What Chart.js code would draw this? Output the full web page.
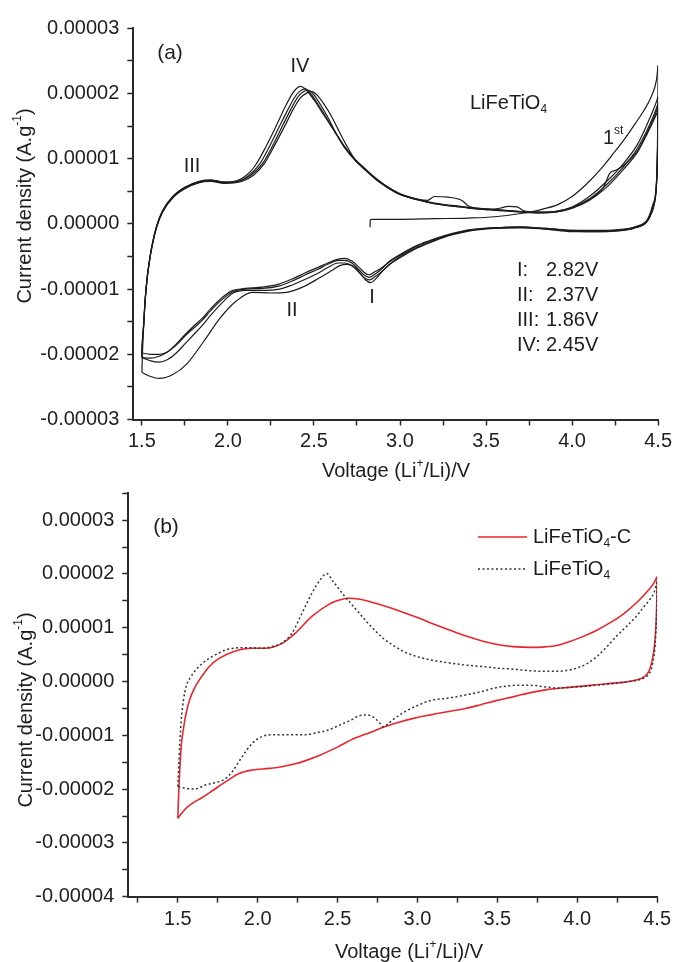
<!DOCTYPE html>
<html><head><meta charset="utf-8">
<script src="https://cdn.jsdelivr.net/npm/chart.js@4/dist/chart.umd.min.js"></script>
<style>
html,body{margin:0;padding:0;background:#fff;width:676px;height:962px;overflow:hidden;position:relative}
canvas{position:absolute;left:0}
</style></head><body>
<canvas id="ca" width="676" height="490" style="top:0"></canvas>
<canvas id="cb" width="676" height="492" style="top:470px"></canvas>
<script>
// ---------- Tick labels ----------
const xTickLabels = ['1.5','2.0','2.5','3.0','3.5','4.0','4.5'];
const yTickLabelsA = ['-0.00003','-0.00002','-0.00001','0.00000','0.00001','0.00002','0.00003'];
const yTickLabelsB = ['-0.00004','-0.00003','-0.00002','-0.00001','0.00000','0.00001','0.00002','0.00003'];
// current density values below are in units of 1e-5 A.g-1 (axis labelled accordingly)

// ---------- Panel (a): LiFeTiO4, cycles ----------
// cycle 1: first anodic scan from OCV
const a_c1_ocv_V = [2.826,2.827,2.84,3.0,3.2,3.4,3.55,3.7,3.82,3.92,4.0,4.08,4.16,4.24,4.31,4.37,4.42,4.46,4.49,4.5];
const a_c1_ocv_I = [-0.05,0.06,0.07,0.07,0.08,0.09,0.11,0.16,0.22,0.30,0.42,0.60,0.82,1.08,1.32,1.55,1.75,1.95,2.2,2.43];
// cycle 1 cathodic
const a_c1_red_V = [4.5,4.498,4.494,4.485,4.46,4.42,4.36,4.28,4.15,4.0,3.85,3.7,3.55,3.4,3.3,3.2,3.1,3.0,2.95,2.9,2.86,2.83,2.80,2.77,2.73,2.69,2.65,2.6,2.53,2.45,2.34,2.25,2.14,2.05,1.95,1.86,1.76,1.68,1.6,1.55,1.5];
const a_c1_red_I = [2.43,1.6,0.9,0.45,0.15,0.0,-0.06,-0.10,-0.12,-0.12,-0.08,-0.05,-0.06,-0.10,-0.16,-0.25,-0.36,-0.50,-0.60,-0.72,-0.84,-0.90,-0.86,-0.76,-0.65,-0.62,-0.64,-0.72,-0.83,-0.95,-1.05,-1.06,-1.05,-1.18,-1.46,-1.80,-2.15,-2.31,-2.37,-2.34,-2.28];
// cycle 2
const a_c2_ox_V = [1.5,1.503,1.509,1.519,1.53,1.542,1.558,1.585,1.62,1.68,1.75,1.83,1.9,1.98,2.05,2.11,2.16,2.22,2.28,2.33,2.37,2.40,2.42,2.45,2.5,2.56,2.62,2.68,2.74,2.8,2.86,2.92,3.0,3.1,3.2,3.35,3.5,3.65,3.8,3.9,4.0,4.1,4.2,4.3,4.38,4.44,4.48,4.5];
const a_c2_ox_I = [-2.28,-2.0,-1.64,-1.18,-0.85,-0.6,-0.34,-0.04,0.2,0.42,0.56,0.65,0.67,0.64,0.66,0.75,0.9,1.18,1.5,1.78,1.98,2.08,2.11,2.07,1.9,1.66,1.42,1.18,0.99,0.84,0.70,0.58,0.46,0.38,0.32,0.27,0.23,0.20,0.18,0.19,0.26,0.42,0.65,0.93,1.22,1.55,1.80,1.95];
const a_red_V = [4.5,4.497,4.49,4.47,4.44,4.37,4.3,4.15,4.0,3.85,3.7,3.55,3.4,3.3,3.2,3.1,3.0,2.94,2.89,2.85,2.82,2.79,2.76,2.72,2.68,2.64,2.58,2.52,2.45,2.37,2.3,2.2,2.1,2.03,1.97,1.9,1.85,1.8,1.75,1.7,1.65,1.6,1.55,1.5];
const a_c2_red_I = [1.95,1.2,0.6,0.3,0.08,-0.04,-0.08,-0.10,-0.10,-0.07,-0.05,-0.06,-0.09,-0.15,-0.23,-0.33,-0.47,-0.57,-0.70,-0.78,-0.82,-0.78,-0.70,-0.60,-0.56,-0.56,-0.62,-0.70,-0.78,-0.88,-0.95,-0.99,-1.00,-1.04,-1.15,-1.33,-1.48,-1.60,-1.72,-1.86,-1.96,-2.0,-2.0,-1.98];
// cycle 3
const a_c3_ox_V = [1.5,1.503,1.509,1.519,1.53,1.542,1.558,1.585,1.62,1.68,1.75,1.83,1.9,1.98,2.06,2.12,2.18,2.24,2.3,2.35,2.39,2.42,2.45,2.48,2.52,2.57,2.62,2.68,2.74,2.8,2.86,2.92,3.0,3.1,3.2,3.35,3.5,3.65,3.8,3.9,4.0,4.1,4.2,4.3,4.38,4.44,4.48,4.5];
const a_c3_ox_I = [-1.98,-1.8,-1.6,-1.16,-0.84,-0.6,-0.35,-0.05,0.19,0.41,0.55,0.64,0.66,0.63,0.65,0.74,0.9,1.18,1.5,1.76,1.95,2.04,2.07,2.0,1.85,1.64,1.42,1.17,0.98,0.83,0.69,0.57,0.45,0.37,0.31,0.26,0.22,0.19,0.17,0.18,0.24,0.38,0.60,0.88,1.16,1.46,1.70,1.85];
const a_c3_red_I = [1.85,1.15,0.58,0.28,0.06,-0.06,-0.10,-0.12,-0.11,-0.08,-0.06,-0.07,-0.11,-0.17,-0.26,-0.37,-0.52,-0.62,-0.74,-0.82,-0.86,-0.82,-0.74,-0.64,-0.60,-0.60,-0.67,-0.76,-0.85,-0.94,-1.0,-1.02,-1.02,-1.06,-1.2,-1.4,-1.56,-1.7,-1.84,-1.98,-2.08,-2.12,-2.1,-2.05];
// cycle 4
const a_c4_ox_V = [1.5,1.503,1.509,1.519,1.53,1.542,1.558,1.585,1.62,1.68,1.75,1.83,1.9,1.98,2.07,2.14,2.2,2.26,2.32,2.37,2.41,2.44,2.47,2.5,2.54,2.58,2.63,2.68,2.74,2.8,2.86,2.92,3.0,3.1,3.16,3.2,3.28,3.36,3.4,3.5,3.65,3.8,3.9,4.0,4.1,4.18,4.22,4.26,4.3,4.38,4.44,4.48,4.5];
const a_c4_ox_I = [-2.05,-1.8,-1.58,-1.15,-0.83,-0.59,-0.34,-0.04,0.2,0.42,0.56,0.65,0.67,0.64,0.66,0.76,0.92,1.2,1.52,1.78,1.96,2.03,2.05,1.98,1.82,1.64,1.38,1.16,0.97,0.83,0.69,0.58,0.46,0.38,0.36,0.42,0.41,0.36,0.27,0.23,0.20,0.18,0.19,0.25,0.38,0.55,0.78,0.83,0.90,1.12,1.42,1.66,1.80];
const a_c4_red_I = [1.80,1.1,0.55,0.26,0.05,-0.05,-0.09,-0.11,-0.10,-0.07,-0.05,-0.06,-0.10,-0.16,-0.24,-0.34,-0.48,-0.58,-0.68,-0.74,-0.78,-0.74,-0.66,-0.57,-0.53,-0.54,-0.60,-0.67,-0.75,-0.85,-0.92,-0.97,-0.99,-1.02,-1.12,-1.3,-1.45,-1.57,-1.70,-1.84,-1.96,-2.03,-2.06,-2.05];
// cycle 5 (anodic)
const a_c5_ox_V = [1.5,1.503,1.509,1.519,1.53,1.542,1.558,1.585,1.62,1.68,1.75,1.83,1.9,1.98,2.08,2.15,2.21,2.27,2.33,2.38,2.42,2.46,2.49,2.52,2.56,2.6,2.64,2.69,2.74,2.8,2.86,2.92,3.0,3.1,3.2,3.35,3.5,3.58,3.63,3.68,3.72,3.8,3.9,4.0,4.1,4.2,4.3,4.38,4.44,4.48,4.5];
const a_c5_ox_I = [-2.05,-1.8,-1.6,-1.17,-0.85,-0.61,-0.36,-0.06,0.18,0.40,0.54,0.63,0.65,0.62,0.65,0.75,0.92,1.2,1.5,1.76,1.93,2.01,2.03,1.97,1.83,1.66,1.45,1.2,0.98,0.82,0.68,0.57,0.45,0.37,0.31,0.26,0.22,0.24,0.27,0.26,0.2,0.17,0.18,0.24,0.36,0.56,0.84,1.1,1.40,1.62,1.74];

// ---------- Panel (b): LiFeTiO4-C vs LiFeTiO4 ----------
const b_C_ox_V = [1.5,1.505,1.512,1.521,1.535,1.552,1.575,1.605,1.635,1.665,1.697,1.759,1.852,1.966,2.049,2.153,2.236,2.339,2.443,2.505,2.567,2.64,2.72,2.8,2.9,3.0,3.1,3.2,3.3,3.4,3.5,3.6,3.707,3.8,3.872,3.95,4.038,4.12,4.204,4.29,4.369,4.44,4.48,4.5];
const b_C_ox_I = [-2.54,-2.1,-1.65,-1.21,-0.88,-0.59,-0.33,-0.12,0.03,0.16,0.28,0.43,0.56,0.62,0.62,0.71,0.90,1.21,1.43,1.51,1.55,1.53,1.47,1.40,1.30,1.19,1.07,0.96,0.85,0.76,0.69,0.65,0.635,0.645,0.67,0.74,0.84,0.95,1.09,1.26,1.46,1.68,1.83,1.95];
const b_C_red_V = [4.5,4.498,4.492,4.483,4.468,4.453,4.42,4.369,4.3,4.225,4.12,4.017,3.9,3.81,3.7,3.603,3.5,3.396,3.3,3.189,3.08,2.982,2.878,2.795,2.7,2.588,2.505,2.381,2.3,2.236,2.15,2.07,1.966,1.883,1.801,1.75,1.697,1.65,1.593,1.55,1.5];
const b_C_red_I = [1.95,1.5,1.0,0.65,0.38,0.22,0.09,0.03,-0.01,-0.03,-0.06,-0.09,-0.12,-0.15,-0.21,-0.28,-0.35,-0.43,-0.50,-0.56,-0.62,-0.68,-0.76,-0.84,-0.95,-1.08,-1.21,-1.38,-1.47,-1.53,-1.585,-1.615,-1.645,-1.71,-1.86,-1.96,-2.07,-2.16,-2.26,-2.36,-2.54];
const b_P_ox_V = [1.5,1.503,1.507,1.511,1.516,1.521,1.535,1.552,1.58,1.614,1.655,1.697,1.75,1.801,1.85,1.904,1.96,2.028,2.09,2.153,2.215,2.277,2.339,2.391,2.432,2.47,2.546,2.61,2.671,2.73,2.795,2.85,2.899,2.95,3.002,3.085,3.19,3.292,3.4,3.5,3.6,3.707,3.8,3.872,3.94,3.997,4.06,4.121,4.18,4.245,4.31,4.369,4.42,4.453,4.48,4.5];
const b_P_ox_I = [-1.95,-1.75,-1.5,-1.21,-0.95,-0.72,-0.35,-0.09,0.08,0.22,0.34,0.43,0.52,0.59,0.62,0.63,0.63,0.62,0.65,0.72,0.90,1.27,1.64,1.89,2.01,1.87,1.58,1.36,1.15,0.96,0.78,0.67,0.58,0.51,0.46,0.40,0.35,0.31,0.28,0.25,0.23,0.20,0.19,0.19,0.21,0.25,0.33,0.46,0.63,0.84,1.03,1.21,1.40,1.52,1.65,1.85];
const b_P_red_V = [4.5,4.498,4.492,4.483,4.47,4.453,4.42,4.369,4.3,4.245,4.15,4.038,3.95,3.872,3.8,3.707,3.62,3.541,3.47,3.396,3.3,3.189,3.085,3.02,2.94,2.899,2.85,2.81,2.785,2.76,2.733,2.681,2.63,2.588,2.52,2.443,2.37,2.298,2.2,2.132,2.091,2.028,1.966,1.904,1.842,1.80,1.759,1.677,1.604,1.541,1.5];
const b_P_red_I = [1.85,1.4,0.9,0.53,0.3,0.16,0.07,0.02,-0.01,-0.03,-0.06,-0.09,-0.11,-0.12,-0.10,-0.07,-0.07,-0.09,-0.13,-0.19,-0.25,-0.31,-0.35,-0.42,-0.53,-0.60,-0.70,-0.80,-0.84,-0.76,-0.68,-0.62,-0.64,-0.71,-0.80,-0.90,-0.95,-0.99,-0.99,-0.99,-0.99,-1.02,-1.15,-1.39,-1.67,-1.80,-1.86,-1.92,-2.0,-1.98,-1.95];

// ---------- text ----------
const seriesNamesB = ['LiFeTiO4-C', 'LiFeTiO4'];
const peakLabels = ['I:', 'II:', 'III:', 'IV:'];
const peakValues = ['2.82V', '2.37V', '1.86V', '2.45V'];

const FONT = "'Liberation Sans', Arial, Helvetica, sans-serif";
const INK = '#1e1e1e';

function pts(vs, is) { return vs.map((v, i) => ({ x: v, y: is[i] })); }

function rich(ctx, parts, x, y, align, rot) {
  ctx.save();
  ctx.translate(x, y);
  if (rot) ctx.rotate(rot);
  ctx.textBaseline = 'middle';
  ctx.textAlign = 'left';
  ctx.fillStyle = INK;
  let total = 0;
  const ws = parts.map(p => { ctx.font = (p.s || 20) + 'px ' + FONT; const w = ctx.measureText(p.t).width; total += w; return w; });
  let cx = align === 'center' ? -total / 2 : 0;
  parts.forEach((p, i) => { ctx.font = (p.s || 20) + 'px ' + FONT; ctx.fillText(p.t, cx, p.dy || 0); cx += ws[i]; });
  ctx.restore();
}

function xTick(v) {
  const k = (v - 1.5) / 0.5;
  const r = Math.round(k);
  if (Math.abs(k - r) < 1e-6 && r >= 0 && r < xTickLabels.length) return xTickLabels[r];
  return '';
}
function yTickFn(labels, offset) {
  return v => {
    const r = Math.round(v);
    if (Math.abs(v - r) < 1e-6 && labels[r + offset] !== undefined) return labels[r + offset];
    return '';
  };
}

function axisCommon(extra) {
  return Object.assign({
    type: 'linear',
    grid: { drawOnChartArea: false, drawTicks: true, tickLength: 6, tickWidth: 1.5, tickColor: '#2a2a2a' },
    border: { display: true, color: '#2a2a2a', width: 2 },
    title: { display: false }
  }, extra);
}

const tickFont = { family: FONT, size: 20 };

const lineA = (data) => ({ data, showLine: true, pointRadius: 0, borderColor: '#1c1c1c', borderWidth: 1.2, cubicInterpolationMode: 'monotone', fill: false });

// ---------- Chart (a) ----------
const annA = {
  id: 'annA',
  afterDraw(chart) {
    const ctx = chart.ctx;
    rich(ctx, [{ t: 'Current density (A.g' }, { t: '-1', s: 12, dy: -7 }, { t: ')' }], 25, 206, 'center', -Math.PI / 2);
    rich(ctx, [{ t: 'Voltage (Li' }, { t: '+', s: 12, dy: -7 }, { t: '/Li)/V' }], 396, 471, 'center');
    rich(ctx, [{ t: '(a)', s: 21 }], 170, 53, 'center');
    rich(ctx, [{ t: 'IV' }], 300, 66, 'center');
    rich(ctx, [{ t: 'III' }], 192, 166, 'center');
    rich(ctx, [{ t: 'II' }], 292, 310, 'center');
    rich(ctx, [{ t: 'I' }], 372, 297, 'center');
    rich(ctx, [{ t: 'LiFeTiO' }, { t: '4', s: 12, dy: 7 }], 470, 103, 'left');
    rich(ctx, [{ t: '1' }, { t: 'st', s: 12, dy: -7 }], 603, 138, 'left');
    const rows = [270, 295, 320, 345];
    peakLabels.forEach((l, i) => {
      rich(ctx, [{ t: l }], 517, rows[i], 'left');
      rich(ctx, [{ t: peakValues[i] }], 546, rows[i], 'left');
    });
  }
};

new Chart(document.getElementById('ca'), {
  type: 'scatter',
  data: {
    datasets: [
      lineA(pts(a_c1_ocv_V, a_c1_ocv_I)),
      lineA(pts(a_c1_red_V, a_c1_red_I)),
      lineA(pts(a_c2_ox_V, a_c2_ox_I)),
      lineA(pts(a_red_V, a_c2_red_I)),
      lineA(pts(a_c3_ox_V, a_c3_ox_I)),
      lineA(pts(a_red_V, a_c3_red_I)),
      lineA(pts(a_c4_ox_V, a_c4_ox_I)),
      lineA(pts(a_red_V, a_c4_red_I)),
      lineA(pts(a_c5_ox_V, a_c5_ox_I))
    ]
  },
  options: {
    responsive: false, animation: false, events: [],
    layout: { padding: { top: 28.3, right: 14.3, bottom: 6.5, left: 0 } },
    plugins: { legend: { display: false }, tooltip: { enabled: false } },
    scales: {
      x: axisCommon({
        position: 'bottom', min: 1.45, max: 4.5,
        afterFit: s => { s.height = 64; },
        ticks: { stepSize: 0.25, includeBounds: false, autoSkip: false, maxRotation: 0, minRotation: 0, padding: 4, color: INK, font: tickFont, callback: xTick }
      }),
      y: axisCommon({
        position: 'left', min: -3, max: 3,
        afterFit: s => { s.width = 133.3; },
        ticks: { stepSize: 0.5, autoSkip: false, padding: 8, color: INK, font: tickFont, callback: yTickFn(yTickLabelsA, 3) }
      })
    }
  },
  plugins: [annA]
});

// ---------- Chart (b) ----------
const annB = {
  id: 'annB',
  afterDraw(chart) {
    const ctx = chart.ctx;
    const off = 470;
    rich(ctx, [{ t: 'Current density (A.g' }, { t: '-1', s: 12, dy: -7 }, { t: ')' }], 26, 710 - off, 'center', -Math.PI / 2);
    rich(ctx, [{ t: 'Voltage (Li' }, { t: '+', s: 12, dy: -7 }, { t: '/Li)/V' }], 409, 952 - off, 'center');
    rich(ctx, [{ t: '(b)', s: 21 }], 166, 527 - off, 'center');
    // legend
    ctx.save();
    ctx.strokeStyle = '#e8262d'; ctx.lineWidth = 1.6;
    ctx.beginPath(); ctx.moveTo(478, 537 - off); ctx.lineTo(527, 537 - off); ctx.stroke();
    ctx.strokeStyle = '#333'; ctx.lineWidth = 1.5; ctx.setLineDash([2, 2.5]);
    ctx.beginPath(); ctx.moveTo(478, 569 - off); ctx.lineTo(527, 569 - off); ctx.stroke();
    ctx.restore();
    rich(ctx, [{ t: 'LiFeTiO' }, { t: '4', s: 12, dy: 7 }, { t: '-C' }], 533, 537 - off, 'left');
    rich(ctx, [{ t: 'LiFeTiO' }, { t: '4', s: 12, dy: 7 }], 533, 569 - off, 'left');
  }
};

const lineB = (label, data, color, width, dash) => ({ label, data, showLine: true, pointRadius: 0, borderColor: color, borderWidth: width, borderDash: dash, cubicInterpolationMode: 'monotone', fill: false });

new Chart(document.getElementById('cb'), {
  type: 'scatter',
  data: {
    datasets: [
      lineB(seriesNamesB[1], pts(b_P_ox_V, b_P_ox_I), '#333', 1.5, [2, 2.5]),
      lineB(seriesNamesB[1], pts(b_P_red_V, b_P_red_I), '#333', 1.5, [2, 2.5]),
      lineB(seriesNamesB[0], pts(b_C_ox_V, b_C_ox_I), '#e8262d', 1.6, []),
      lineB(seriesNamesB[0], pts(b_C_red_V, b_C_red_I), '#e8262d', 1.6, [])
    ]
  },
  options: {
    responsive: false, animation: false, events: [],
    layout: { padding: { top: 23.3, right: 15, bottom: 0, left: 0 } },
    plugins: { legend: { display: false }, tooltip: { enabled: false } },
    scales: {
      x: axisCommon({
        position: 'bottom', min: 1.19, max: 4.5,
        afterFit: s => { s.height = 65.3; },
        ticks: { stepSize: 0.25, includeBounds: false, autoSkip: false, maxRotation: 0, minRotation: 0, padding: 5, color: INK, font: tickFont, callback: xTick }
      }),
      y: axisCommon({
        position: 'left', min: -4, max: 3.5,
        afterFit: s => { s.width = 128.3; },
        ticks: { stepSize: 0.5, autoSkip: false, padding: 8, color: INK, font: tickFont, callback: yTickFn(yTickLabelsB, 4) }
      })
    }
  },
  plugins: [annB]
});
</script>
</body></html>
